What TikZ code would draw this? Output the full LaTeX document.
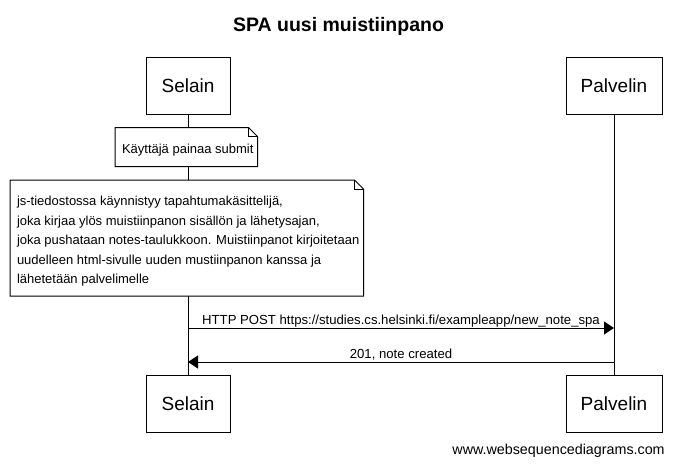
\documentclass[tikz,border=0pt]{standalone}
\usepackage{fontspec}
\setmainfont{Liberation Sans}
\usetikzlibrary{arrows.meta}

\begin{document}
\begin{tikzpicture}[x=1pt, y=-1pt, line width=1pt]
\tikzset{>={Triangle[length=10pt, width=13pt]}}
\tikzset{actor/.style={draw, minimum width=84pt, minimum height=57pt, inner sep=0pt, font=\fontsize{19}{22}\selectfont}}
\tikzset{notetext/.style={inner sep=0pt, align=left, font=\fontsize{13}{19.5}\selectfont}}
\tikzset{msgtext/.style={midway, anchor=base, font=\fontsize{13.15}{16}\selectfont}}
\pgfmathsetmacro{\selainx}{188}
\pgfmathsetmacro{\palvelinx}{614}
\pgfmathsetmacro{\topy}{85.5}
\pgfmathsetmacro{\bottomy}{403.5}
\useasboundingbox (0,0) rectangle (677,466);

\node[anchor=base, font=\bfseries\fontsize{19.5}{23}\selectfont] (title) at (338.5,31.5) {SPA uusi muistiinpano};

% actors, top and bottom
\node[actor] (selain-top) at (\selainx, \topy) {Selain};
\node[actor, minimum width=96pt] (palvelin-top) at (\palvelinx, \topy) {Palvelin};
\node[actor] (selain-bottom) at (\selainx, \bottomy) {Selain};
\node[actor, minimum width=96pt] (palvelin-bottom) at (\palvelinx, \bottomy) {Palvelin};

\draw (selain-top) -- (selain-bottom);
\draw (palvelin-top) -- (palvelin-bottom);

% notes
\draw[fill=white] (115,127.5) -- (248.5,127.5) -- (257.5,136.5) -- (257.5,166.5) -- (115,166.5) -- cycle;
\draw (248.5,127.5) |- (257.5,136.5);
\node[notetext, anchor=base west] (submit-note) at (121.5,153) {Käyttäjä painaa submit};

\draw[fill=white] (10,180) -- (354.5,180) -- (363.5,189) -- (363.5,296) -- (10,296) -- cycle;
\draw (354.5,180) |- (363.5,189);
\node[notetext, anchor=north west] (js-note) at (16.5,196) {js-tiedostossa käynnistyy tapahtumakäsittelijä,\\
joka kirjaa ylös muistiinpanon sisällön ja lähetysajan,\\
joka pushataan notes-taulukkoon. Muistiinpanot kirjoitetaan\\
uudelleen html-sivulle uuden mustiinpanon kanssa ja\\
lähetetään palvelimelle};

% messages
\coordinate (post-y) at (0,328);
\coordinate (reply-y) at (0,362);
\draw[->] (selain-top |- post-y) -- node[msgtext, yshift=4pt] {HTTP POST https://studies.cs.helsinki.fi/exampleapp/new\_note\_spa} (palvelin-top |- post-y);
\draw[->] (palvelin-top |- reply-y) -- node[msgtext, yshift=3.5pt] {201, note created} (selain-top |- reply-y);

\node[anchor=base east, font=\fontsize{14.3}{16}\selectfont] (footer) at (668.5,454) {www.websequencediagrams.com};

\end{tikzpicture}
\end{document}
